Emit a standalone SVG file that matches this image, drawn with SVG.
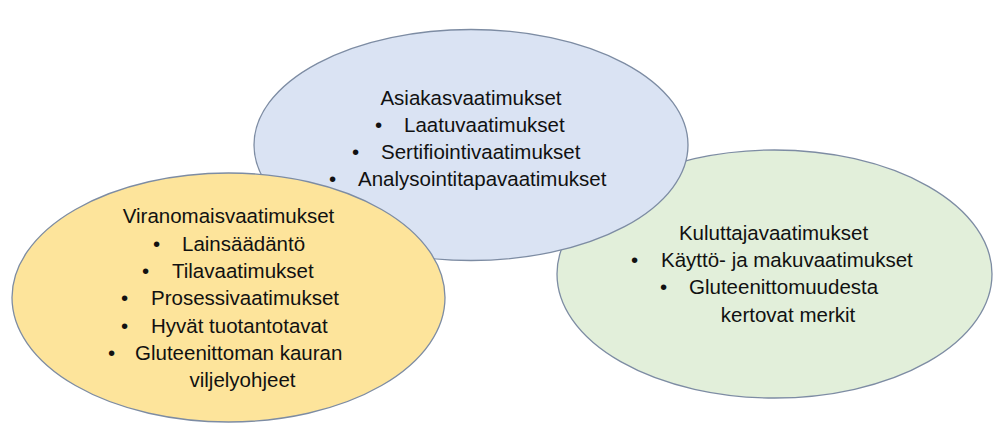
<svg xmlns="http://www.w3.org/2000/svg" width="1004" height="433" viewBox="0 0 1004 433">
<style>
.e{stroke:#7d8ca3;stroke-width:1.3}
text{font-family:"Liberation Sans",Arial,sans-serif;font-size:20.5px;fill:#111}
.m{text-anchor:middle}
</style>
<rect width="1004" height="433" fill="#ffffff"/>
<g id="kuluttaja">
<ellipse class="e" cx="774.5" cy="274" rx="217.5" ry="124" fill="#e2efda"/>
<text class="m" x="773.5" y="239.5">Kuluttajavaatimukset</text>
<text x="631" y="267">•</text><text x="661" y="267">Käyttö- ja makuvaatimukset</text>
<text x="660" y="294">•</text><text x="689" y="294">Gluteenittomuudesta</text>
<text class="m" x="788" y="321.5">kertovat merkit</text>
</g>
<g id="asiakas">
<ellipse class="e" cx="471" cy="145" rx="217" ry="115.5" fill="#dae3f3"/>
<text class="m" x="471" y="104.5">Asiakasvaatimukset</text>
<text x="375" y="131.5">•</text><text x="404" y="131.5">Laatuvaatimukset</text>
<text x="352" y="158.5">•</text><text x="381" y="158.5">Sertifiointivaatimukset</text>
<text x="329" y="185.5">•</text><text x="358" y="185.5">Analysointitapavaatimukset</text>
</g>
<g id="viranomais">
<ellipse class="e" cx="228.5" cy="297.5" rx="216.5" ry="124.5" fill="#fde49b"/>
<text class="m" x="228.5" y="223">Viranomaisvaatimukset</text>
<text x="153" y="250.5">•</text><text x="182" y="250.5">Lainsäädäntö</text>
<text x="142" y="278">•</text><text x="172" y="278">Tilavaatimukset</text>
<text x="121" y="305">•</text><text x="151" y="305">Prosessivaatimukset</text>
<text x="121" y="332.5">•</text><text x="151" y="332.5">Hyvät tuotantotavat</text>
<text x="108" y="360">•</text><text x="135" y="360">Gluteenittoman kauran</text>
<text class="m" x="242.5" y="387">viljelyohjeet</text>
</g>
<g id="connectors"></g>
</svg>
